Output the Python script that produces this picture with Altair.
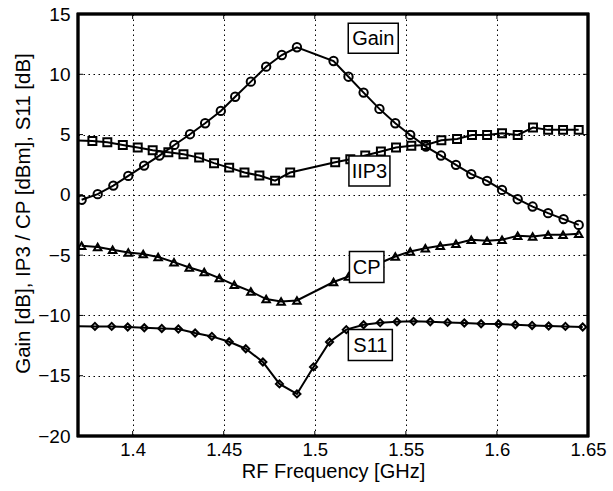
import altair as alt
import pandas as pd

# ---- data ----
gain_f = [1.3720, 1.3808, 1.3894, 1.3976, 1.4063, 1.4147, 1.4229, 1.4315, 1.4398, 1.4484,
          1.4563, 1.4649, 1.4733, 1.4819, 1.4902, 1.5103, 1.5185, 1.5268, 1.5355, 1.5442,
          1.5524, 1.5610, 1.5693, 1.5775, 1.5859, 1.5946, 1.6028, 1.6114, 1.6196, 1.6281,
          1.6366, 1.6449]
gain = [-0.41, 0.06, 0.77, 1.57, 2.43, 3.26, 4.14, 5.03, 5.94, 6.96,
        8.14, 9.39, 10.63, 11.6, 12.24, 11.1, 9.80, 8.48, 7.13, 5.94,
        4.97, 4.0, 3.26, 2.49, 1.72, 1.16, 0.41, -0.36, -0.97, -1.52,
        -2.01, -2.49]

iip3_f = [1.3615, 1.3779, 1.3861, 1.3946, 1.4028, 1.4110, 1.4196, 1.4279, 1.4365, 1.4447, 1.4530,
          1.4614, 1.4696, 1.4782, 1.4865, 1.5112, 1.5195, 1.5277, 1.5363, 1.5446,
          1.5530, 1.5610, 1.5695, 1.5781, 1.5863, 1.5946, 1.6028, 1.6114, 1.6198, 1.6281,
          1.6363, 1.6449]
iip3 = [4.55, 4.47, 4.37, 4.14, 3.92, 3.70, 3.54, 3.37, 3.09, 2.63, 2.26,
        1.85, 1.60, 1.18, 1.85, 2.71, 2.95, 3.26, 3.59, 3.92,
        4.08, 4.14, 4.53, 4.64, 4.97, 4.97, 5.11, 4.97, 5.58, 5.39,
        5.39, 5.39]

cp_f = [1.3720, 1.3808, 1.3890, 1.3976, 1.4058, 1.4140, 1.4227, 1.4311, 1.4393, 1.4476,
        1.4558, 1.4649, 1.4733, 1.4815, 1.4902, 1.5103, 1.5185, 1.5268, 1.5354, 1.5442,
        1.5524, 1.5607, 1.5689, 1.5775, 1.5859, 1.5946, 1.6028, 1.6114, 1.6196, 1.6281,
        1.6363, 1.6449]
cp = [-4.23, -4.33, -4.56, -4.78, -4.91, -5.16, -5.58, -6.02, -6.40, -6.90,
      -7.46, -8.01, -8.64, -8.84, -8.76, -7.23, -6.77, -6.24, -5.67, -5.11,
      -4.70, -4.42, -4.23, -4.06, -3.73, -3.81, -3.73, -3.40, -3.45, -3.31,
      -3.31, -3.23]

s11_f = [1.3623, 1.3793, 1.3885, 1.3973, 1.4064, 1.4160, 1.4251, 1.4343, 1.4435, 1.4530,
         1.4621, 1.4715, 1.4806, 1.4902, 1.4993, 1.5081, 1.5173, 1.5268, 1.5359, 1.5451,
         1.5542, 1.5634, 1.5729, 1.5821, 1.5913, 1.6009, 1.6101, 1.6193, 1.6284, 1.6376,
         1.6471]
s11 = [-10.9, -10.91, -10.91, -10.96, -11.02, -11.08, -11.13, -11.46, -11.74, -12.18,
       -12.76, -13.86, -15.68, -16.51, -14.27, -12.2, -11.18, -10.77, -10.6, -10.52,
       -10.49, -10.52, -10.58, -10.63, -10.69, -10.71, -10.77, -10.83, -10.88, -10.91,
       -10.96]

series_names = ["Gain", "IIP3", "CP", "S11"]
label_f = [1.5321, 1.5300, 1.5285, 1.5305]
label_v = [12.98, 1.98, -5.98, -12.45]
label_w = [50, 41, 34.5, 44]   # box widths in px
label_h = [30, 30, 31, 31]

x_ticks = [1.4, 1.45, 1.5, 1.55, 1.6, 1.65]
y_ticks = [-20, -15, -10, -5, 0, 5, 10, 15]
x_dom = [1.37, 1.65]
y_dom = [-20, 15]

W, H = 510, 422
FONT = "Liberation Sans"

rows = []
for name, fs, vs in [("Gain", gain_f, gain), ("IIP3", iip3_f, iip3),
                     ("CP", cp_f, cp), ("S11", s11_f, s11)]:
    for f, v in zip(fs, vs):
        rows.append({"f": f, "v": v, "series": name})
df = pd.DataFrame(rows)

px_x = W / (x_dom[1] - x_dom[0])
px_y = H / (y_dom[1] - y_dom[0])
lab = pd.DataFrame({"name": series_names, "f": label_f, "v": label_v,
                    "w": label_w, "h": label_h})
lab["x1"] = lab["f"] - lab["w"] / 2 / px_x
lab["x2"] = lab["f"] + lab["w"] / 2 / px_x
lab["y1"] = lab["v"] - lab["h"] / 2 / px_y
lab["y2"] = lab["v"] + lab["h"] / 2 / px_y

xs = alt.Scale(domain=x_dom, nice=False, zero=False)
ys = alt.Scale(domain=y_dom, nice=False, zero=False)

xaxis = alt.Axis(values=x_ticks, format=".3~g", title="RF Frequency [GHz]",
                 grid=True, gridColor="black", gridDash=[1.5, 3.5], gridWidth=1, gridOpacity=1,
                 ticks=False, domain=False, labelPadding=4, labelFlush=False, labelOverlap=False,
                 labelFontSize=18.5, titleFontSize=20, titleFontWeight="normal",
                 titleY=41, titleBaseline="alphabetic", labelColor="black", titleColor="black")
yaxis = alt.Axis(values=y_ticks, format="d", title="Gain [dB], IP3 / CP [dBm], S11 [dB]",
                 grid=True, gridColor="black", gridDash=[1.5, 3.5], gridWidth=1, gridOpacity=1,
                 ticks=False, domain=False, labelPadding=8, labelFlush=False, labelOverlap=False,
                 labelFontSize=19, titleFontSize=20.5, titleFontWeight="normal",
                 titleX=-49, titleY=199, titleBaseline="alphabetic", titleAngle=-90,
                 labelColor="black", titleColor="black")

base = alt.Chart(df)
lines = base.mark_line(color="black", strokeWidth=2, clip=True).encode(
    x=alt.X("f:Q", scale=xs, axis=xaxis),
    y=alt.Y("v:Q", scale=ys, axis=yaxis),
    detail="series:N",
)
points = base.mark_point(filled=False, color="black", strokeWidth=2, opacity=1, clip=True).encode(
    x=alt.X("f:Q", scale=xs),
    y=alt.Y("v:Q", scale=ys),
    shape=alt.Shape("series:N", scale=alt.Scale(domain=series_names,
                    range=["circle", "square", "triangle-up", "diamond"]), legend=None),
    size=alt.Size("series:N", scale=alt.Scale(domain=series_names, range=[70, 50, 75, 75]),
                  legend=None),
)

xt = pd.DataFrame({"t": x_ticks[:-1]})
yt = pd.DataFrame({"t": y_ticks[1:-1]})
tb = alt.Chart(xt).mark_rule(color="black", strokeWidth=1).encode(
    x=alt.X("t:Q", scale=xs), y=alt.value(H), y2=alt.value(H - 5))
tt = alt.Chart(xt).mark_rule(color="black", strokeWidth=1).encode(
    x=alt.X("t:Q", scale=xs), y=alt.value(0), y2=alt.value(5))
tl = alt.Chart(yt).mark_rule(color="black", strokeWidth=1).encode(
    y=alt.Y("t:Q", scale=ys), x=alt.value(0), x2=alt.value(5))
tr = alt.Chart(yt).mark_rule(color="black", strokeWidth=1).encode(
    y=alt.Y("t:Q", scale=ys), x=alt.value(W - 5), x2=alt.value(W))

boxes = alt.Chart(lab).mark_rect(fill="white", stroke="black", strokeWidth=1.5).encode(
    x=alt.X("x1:Q", scale=xs), x2="x2:Q",
    y=alt.Y("y1:Q", scale=ys), y2="y2:Q",
)
texts = alt.Chart(lab).mark_text(fontSize=20, font=FONT, color="black",
                                 align="center", baseline="middle", dy=1).encode(
    x=alt.X("f:Q", scale=xs), y=alt.Y("v:Q", scale=ys), text="name:N")

frame = alt.Chart(lab).mark_rect(fill=None, fillOpacity=0, stroke="black", strokeWidth=2.5).encode(
    x=alt.value(0), x2=alt.value(W), y=alt.value(0), y2=alt.value(H))

chart = alt.layer(lines, points, tb, tt, tl, tr, boxes, texts, frame).properties(
    width=W, height=H,
    autosize=alt.AutoSizeParams(type="none"),
    padding={"left": 78, "top": 14, "right": 25, "bottom": 55},
    background="white",
).configure_view(stroke=None).configure(font=FONT)

chart.save("out.html", embed_options={"renderer": "svg", "actions": False})
